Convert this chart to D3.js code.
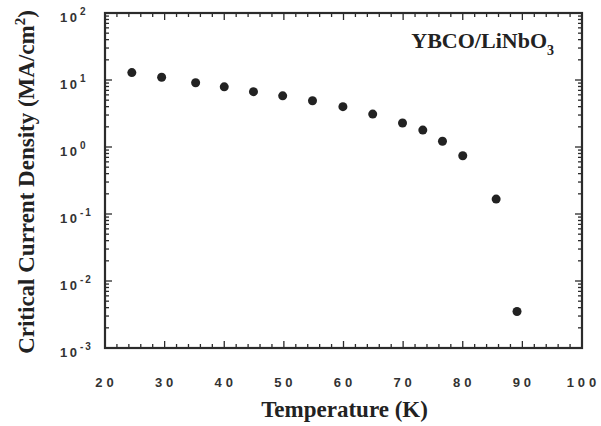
<!DOCTYPE html>
<html><head><meta charset="utf-8">
<script src="https://cdn.jsdelivr.net/npm/d3@7"></script>
<style>
body{margin:0;background:#fff;}
svg{display:block;}
</style></head>
<body><svg id="c" width="601" height="426"></svg>
<script>
const temperature = [24.5, 29.5, 35.2, 40.0, 44.9, 49.8, 54.8, 59.9, 64.9, 69.9, 73.3, 76.6, 80.0, 85.6, 89.1];
const jc = [12.9, 11.0, 9.1, 7.9, 6.7, 5.8, 4.9, 4.0, 3.1, 2.28, 1.79, 1.22, 0.74, 0.167, 0.0035];
const xTicks = [20, 30, 40, 50, 60, 70, 80, 90, 100];
const yExponents = [2, 1, 0, -1, -2, -3];
const xTitle = "Temperature (K)";
const yTitle = "Critical Current Density (MA/cm";
const annotation = "YBCO/LiNbO";

const svg = d3.select("#c");
const L = 105, R = 582, T = 13, B = 348;
const x = d3.scaleLinear().domain([20, 100]).range([L, R]);
const y = d3.scaleLog().domain([1e-3, 1e2]).range([B, T]);
const ink = "#2b2b2b";

const xMinor = d3.range(20, 100.01, 2).filter(v => v % 10 !== 0);
const yMinor = [];
for (let e = -3; e < 2; e++) for (let m = 2; m <= 9; m++) yMinor.push(m * Math.pow(10, e));
const yMajor = yExponents.map(e => Math.pow(10, e));

const g = svg.append("g");
const tk = g.append("g").attr("stroke", ink).attr("stroke-width", 1.3);
function xt(vals, len){
  vals.forEach(v => {
    tk.append("line").attr("x1", x(v)).attr("x2", x(v)).attr("y1", B).attr("y2", B - len);
    tk.append("line").attr("x1", x(v)).attr("x2", x(v)).attr("y1", T).attr("y2", T + len);
  });
}
function yt(vals, len){
  vals.forEach(v => {
    tk.append("line").attr("y1", y(v)).attr("y2", y(v)).attr("x1", L).attr("x2", L + len);
    tk.append("line").attr("y1", y(v)).attr("y2", y(v)).attr("x1", R).attr("x2", R - len);
  });
}
xt(xTicks, 7); xt(xMinor, 4);
yt(yMajor, 7); yt(yMinor, 4);

g.append("rect").attr("x", L).attr("y", T).attr("width", R - L).attr("height", B - T)
  .attr("fill", "none").attr("stroke", ink).attr("stroke-width", 2.2);

// x tick labels
g.append("g").selectAll("text").data(xTicks).join("text")
  .attr("x", d => x(d) + 1.5).attr("y", 387)
  .attr("text-anchor", "middle")
  .attr("font-family", "Liberation Sans, Arial, sans-serif").attr("font-weight", "bold")
  .attr("font-size", 13).attr("letter-spacing", 4).attr("fill", "#333")
  .text(d => d);

// y tick labels: "10" then superscript exponent as separate text
const yl = g.append("g").attr("font-family", "Liberation Sans, Arial, sans-serif")
  .attr("font-weight", "bold").attr("fill", "#333");
yExponents.forEach(e => {
  const py = y(Math.pow(10, e));
  yl.append("text").attr("x", 77).attr("y", py + 9).attr("text-anchor", "end")
    .attr("font-size", 13).text("1\u20090");
  const sup = e < 0 ? "-\u2009" + (-e) : String(e);
  yl.append("text").attr("x", 80).attr("y", py + 2).attr("text-anchor", "start")
    .attr("font-size", 10).text(sup);
});

// points
g.append("g").selectAll("circle").data(temperature).join("circle")
  .attr("cx", d => x(d)).attr("cy", (d, i) => y(jc[i])).attr("r", 4.5).attr("fill", "#222");

// annotation
const an = g.append("text").attr("x", 554).attr("y", 48).attr("text-anchor", "end")
  .attr("font-family", "Liberation Serif, Times New Roman, serif").attr("font-weight", "bold")
  .attr("font-size", 22).attr("fill", "#222");
an.append("tspan").text(annotation);
an.append("tspan").attr("font-size", 14).attr("dy", 7).text("3");

// axis titles
svg.append("text").attr("x", 344.5).attr("y", 417).attr("text-anchor", "middle")
  .attr("font-family", "Liberation Serif, Times New Roman, serif").attr("font-weight", "bold")
  .attr("font-size", 23).attr("fill", "#222").text(xTitle);

const yt2 = svg.append("text").attr("transform", "translate(34,182) rotate(-90)").attr("text-anchor", "middle")
  .attr("font-family", "Liberation Serif, Times New Roman, serif").attr("font-weight", "bold")
  .attr("font-size", 23).attr("fill", "#222");
yt2.append("tspan").text(yTitle);
yt2.append("tspan").attr("font-size", 15).attr("dy", -9).text("2");
yt2.append("tspan").attr("dy", 9).text(")");
</script></body></html>
